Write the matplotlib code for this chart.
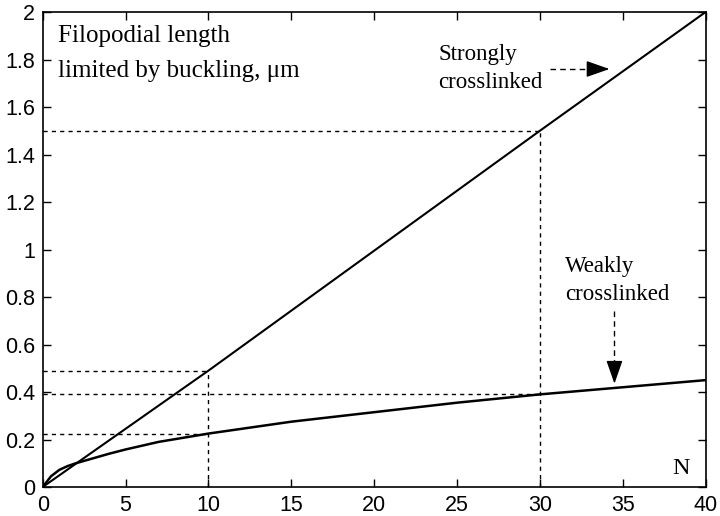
import matplotlib
matplotlib.use("Agg")
import matplotlib.pyplot as plt

# Data
n_strong = [0, 10, 30, 40]
len_strong = [0.0, 0.49, 1.5, 2.0]

n_weak = [0, 0.5, 1, 1.5, 2, 3, 4, 5, 7, 10, 12, 15, 20, 25, 30, 35, 40]
len_weak = [0.0, 0.045, 0.072, 0.088, 0.1, 0.12, 0.14, 0.158, 0.19, 0.225,
            0.245, 0.275, 0.315, 0.355, 0.39, 0.42, 0.45]

xticks = [0, 5, 10, 15, 20, 25, 30, 35, 40]
xticklabels = ["0", "5", "10", "15", "20", "25", "30", "35", "40"]
yticks = [0, 0.2, 0.4, 0.6, 0.8, 1.0, 1.2, 1.4, 1.6, 1.8, 2.0]
yticklabels = ["0", "0.2", "0.4", "0.6", "0.8", "1", "1.2", "1.4", "1.6", "1.8", "2"]

fig = plt.figure(figsize=(7.2, 5.16), dpi=100)
ax = fig.add_axes([0.0593, 0.0562, 0.9207, 0.9205])

dash = (0, (3, 3))
# guide lines
ax.plot([0, 10], [0.49, 0.49], color="black", lw=1, linestyle=dash)
ax.plot([10, 10], [0, 0.49], color="black", lw=1, linestyle=dash)
ax.plot([0, 10], [0.225, 0.225], color="black", lw=1, linestyle=dash)
ax.plot([0, 30], [0.39, 0.39], color="black", lw=1, linestyle=dash)
ax.plot([0, 30], [1.5, 1.5], color="black", lw=1, linestyle=dash)
ax.plot([30, 30], [0, 1.5], color="black", lw=1, linestyle=dash)

ax.plot(n_strong, len_strong, color="black", lw=1.5)
ax.plot(n_weak, len_weak, color="black", lw=1.8)

ax.set_xlim(0, 40)
ax.set_ylim(0, 2)
ax.set_xticks(xticks)
ax.set_xticklabels(xticklabels)
ax.set_yticks(yticks)
ax.set_yticklabels(yticklabels)
ax.tick_params(direction="in", length=6, width=1, top=True, right=True,
               labelsize=15.5, pad=5.5)
for lab in ax.get_xticklabels() + ax.get_yticklabels():
    lab.set_fontfamily("Liberation Sans")
for s in ax.spines.values():
    s.set_linewidth(1.2)

serif = "Liberation Serif"
ax.text(0.92, 1.726, "Filopodial length\nlimited by buckling, \u03bcm", fontsize=18,
        family=serif, va="baseline", ha="left", linespacing=1.75)
ax.text(23.86, 1.68, "Strongly\ncrosslinked", fontsize=16.5, family=serif,
        va="baseline", ha="left", linespacing=1.41)
ax.text(31.5, 0.787, "Weakly\ncrosslinked", fontsize=16.5, family=serif,
        va="baseline", ha="left", linespacing=1.45)

arrow_style = "-|>,head_length=0.8,head_width=0.28"
# strongly crosslinked arrow: dashed shaft + solid head
ax.plot([30.6, 33.4], [1.76, 1.76], color="black", lw=1, linestyle=(0, (4, 3)))
ax.annotate("", xy=(34.2, 1.76), xytext=(33.2, 1.76),
            arrowprops=dict(arrowstyle=arrow_style, color="black", lw=1,
                            mutation_scale=18, shrinkA=0, shrinkB=0))
# weakly crosslinked arrow
ax.plot([34.5, 34.5], [0.74, 0.50], color="black", lw=1, linestyle=(0, (4, 3)))
ax.annotate("", xy=(34.5, 0.435), xytext=(34.5, 0.52),
            arrowprops=dict(arrowstyle=arrow_style, color="black", lw=1,
                            mutation_scale=18, shrinkA=0, shrinkB=0))
ax.text(38.5, 0.076, "N", fontsize=17.5, family=serif, va="center", ha="center")

fig.savefig("out.png", dpi=100)
